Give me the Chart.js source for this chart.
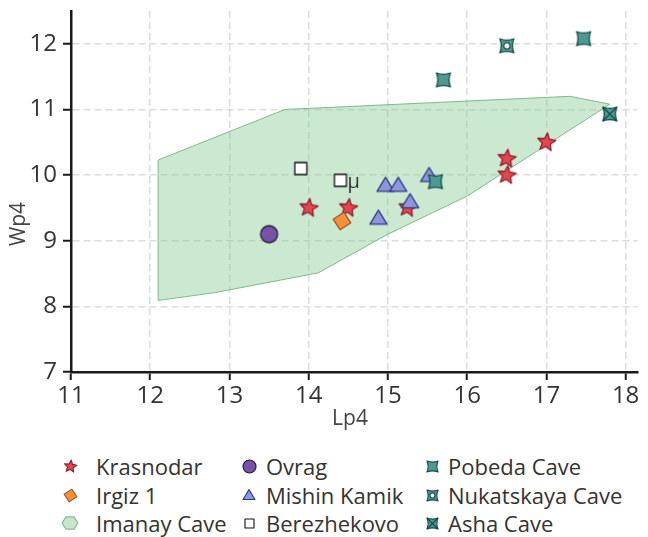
<!DOCTYPE html>
<html>
<head>
<meta charset="utf-8">
<script src="https://cdn.jsdelivr.net/npm/chart.js@4.4.1/dist/chart.umd.min.js"></script>
<style>
  body { margin:0; background:#fff; font-family:'Open Sans', sans-serif; }
  #page { position:relative; width:648px; height:537px; overflow:hidden; }
  #wrap { position:absolute; left:0; top:0; width:648px; height:440px; }
  .lg-mark { position:absolute; }
  .lg-text { position:absolute; font-size:22px; color:#333; line-height:26px; white-space:nowrap; }
</style>
</head>
<body>
<div id="page">
  <div id="wrap"><canvas id="chart"></canvas></div>
  <div id="legend"></div>
</div>
<script>
// --- data ---
const krasnodarLp = [14.0, 14.5, 15.25, 16.5, 16.5, 17.0];
const krasnodarWp = [9.5, 9.5, 9.5, 10.0, 10.25, 10.5];
const irgizLp = [14.42];
const irgizWp = [9.3];
const imanayLp = [12.1, 13.7, 17.3, 17.8, 16.0, 15.0, 14.12, 12.82, 12.1];
const imanayWp = [10.23, 11.0, 11.2, 11.08, 9.68, 9.1, 8.51, 8.21, 8.09];
const ovragLp = [13.5];
const ovragWp = [9.1];
const mishinLp = [14.97, 15.13, 15.52, 15.28, 14.88];
const mishinWp = [9.85, 9.85, 10.0, 9.6, 9.35];
const berezLp = [13.9, 14.4];
const berezWp = [10.1, 9.92];
const berezNotes = ['', 'μ'];
const pobedaLp = [15.7, 17.47, 15.6];
const pobedaWp = [11.45, 12.08, 9.9];
const nukatLp = [16.5];
const nukatWp = [11.97];
const ashaLp = [17.8];
const ashaWp = [10.93];
const xTicks = [11, 12, 13, 14, 15, 16, 17, 18];
const yTicks = [7, 8, 9, 10, 11, 12];

const pts = (xs, ys) => xs.map((x, i) => ({x, y: ys[i]}));

// --- marker drawing ---
function starPath(c, cx, cy, R, r) {
  c.beginPath();
  for (let i = 0; i < 10; i++) {
    const a = -Math.PI/2 + 0.12 + i*Math.PI/5, rad = i%2 ? r : R;
    c.lineTo(cx + rad*Math.cos(a), cy + rad*Math.sin(a));
  }
  c.closePath();
}
function concavePath(c, cx, cy, h, k) {
  c.beginPath();
  c.moveTo(cx-h, cy-h);
  c.quadraticCurveTo(cx, cy-h+k, cx+h, cy-h);
  c.quadraticCurveTo(cx+h-k, cy, cx+h, cy+h);
  c.quadraticCurveTo(cx, cy+h-k, cx-h, cy+h);
  c.quadraticCurveTo(cx-h+k, cy, cx-h, cy-h);
  c.closePath();
}
function marker(kind, s, fill, stroke, lw) {
  const n = Math.ceil(s*2 + 4), cv = document.createElement('canvas');
  cv.width = n; cv.height = n;
  const c = cv.getContext('2d'), m = n/2;
  c.fillStyle = fill; c.strokeStyle = stroke; c.lineWidth = lw; c.lineJoin = 'round';
  if (kind === 'star') starPath(c, m, m, s, s*0.45);
  else if (kind === 'circle') { c.beginPath(); c.arc(m, m, s, 0, Math.PI*2); }
  else if (kind === 'diamond') {
    c.beginPath();
    for (let i = 0; i < 4; i++) { const a = 0.2 + i*Math.PI/2; c.lineTo(m + s*Math.cos(a), m + s*Math.sin(a)); }
    c.closePath();
  }
  else if (kind === 'triangle') { c.beginPath(); c.moveTo(m, m - s*0.9); c.lineTo(m + s, m + s*0.75); c.lineTo(m - s, m + s*0.75); c.closePath(); }
  else if (kind === 'square') { c.beginPath(); c.rect(m - s, m - s, s*2, s*2); }
  else if (kind === 'hex') {
    c.beginPath();
    for (let i = 0; i < 6; i++) { const a = i*Math.PI/3; c.lineTo(m + s*Math.cos(a), m + s*0.88*Math.sin(a)); }
    c.closePath();
  }
  else concavePath(c, m, m, s, s*0.4);
  c.fill(); c.stroke();
  if (kind === 'ring') {
    c.fillStyle = '#fff'; c.lineWidth = lw;
    c.beginPath(); c.arc(m, m, s*0.45, 0, Math.PI*2); c.fill(); c.stroke();
  }
  if (kind === 'cross') {
    c.beginPath(); c.moveTo(m - s, m - s); c.lineTo(m + s, m + s); c.moveTo(m + s, m - s); c.lineTo(m - s, m + s); c.stroke();
  }
  return cv;
}

const series = [
  {label:'Krasnodar', kind:'star', fill:'#e2464f', stroke:'#8e1f2b', size:9.5, lsize:6.5, data:pts(krasnodarLp, krasnodarWp)},
  {label:'Irgiz 1', kind:'diamond', fill:'#f5913e', stroke:'#a8561c', size:9, lsize:6.5, data:pts(irgizLp, irgizWp)},
  {label:'Imanay Cave', kind:'hex', fill:'#c8e6cc', stroke:'#80b98a', size:8, lsize:8, poly:true, data:pts(imanayLp, imanayWp)},
  {label:'Ovrag', kind:'circle', fill:'#7752a8', stroke:'#1c1c2c', size:8.5, lsize:6.5, data:pts(ovragLp, ovragWp)},
  {label:'Mishin Kamik', kind:'triangle', fill:'#8f98d6', stroke:'#2e3a8c', size:8.5, lsize:6, data:pts(mishinLp, mishinWp)},
  {label:'Berezhekovo', kind:'square', fill:'#ffffff', stroke:'#111111', size:6, lsize:4.5, notes:berezNotes, data:pts(berezLp, berezWp)},
  {label:'Pobeda Cave', kind:'concave', fill:'#4c9b90', stroke:'#174a47', size:7, lsize:5.5, data:pts(pobedaLp, pobedaWp)},
  {label:'Nukatskaya Cave', kind:'ring', fill:'#4c9b90', stroke:'#174a47', size:7, lsize:5.5, data:pts(nukatLp, nukatWp)},
  {label:'Asha Cave', kind:'cross', fill:'#4c9b90', stroke:'#174a47', size:7, lsize:5.5, data:pts(ashaLp, ashaWp)}
];

const datasets = series.map((s, i) => {
  if (s.poly) return {
    label: s.label, data: s.data.concat([s.data[0]]), showLine: true, fill: 'shape',
    backgroundColor: 'rgba(130,200,145,0.42)', borderColor: '#7fb98a', borderWidth: 1,
    pointRadius: 0, order: 50
  };
  return {
    label: s.label, data: s.data, notes: s.notes,
    pointStyle: marker(s.kind, s.size, s.fill, s.stroke, 1.3), pointRadius: s.size,
    order: 20 - i
  };
});

const notesPlugin = {
  id: 'notes',
  afterDatasetsDraw(chart) {
    const c = chart.ctx;
    chart.data.datasets.forEach((ds, i) => {
      if (!ds.notes) return;
      chart.getDatasetMeta(i).data.forEach((p, j) => {
        if (!ds.notes[j]) return;
        c.save(); c.font = '20px "Open Sans"'; c.fillStyle = '#333';
        c.textBaseline = 'alphabetic'; c.fillText(ds.notes[j], p.x + 7, p.y + 8); c.restore();
      });
    });
  }
};
const titlesPlugin = {
  id: 'titles',
  afterDraw(chart) {
    const c = chart.ctx;
    c.save(); c.font = '21px "Open Sans"'; c.fillStyle = '#444';
    c.textAlign = 'center'; c.textBaseline = 'middle';
    c.fillText('Lp4', 350, 419);
    c.translate(19, 224); c.rotate(-Math.PI/2); c.fillText('Wp4', 0, 0);
    c.restore();
  }
};

const axisCommon = {
  type: 'linear',
  grid: { color: '#dcdcdc', lineWidth: 1.5, tickColor: '#1a1a1a', tickWidth: 2, tickLength: 8 },
  border: { color: '#1a1a1a', width: 2.5, dash: [7, 4] },
  ticks: { stepSize: 1, includeBounds: false, color: '#333', font: { family: 'Open Sans', size: 24 } }
};

new Chart(document.getElementById('chart'), {
  type: 'scatter',
  data: { datasets },
  options: {
    responsive: true, maintainAspectRatio: false, animation: false,
    layout: { padding: { top: 11, right: 4, left: 0, bottom: 0 } },
    plugins: { legend: { display: false }, tooltip: { enabled: false } },
    scales: {
      x: { ...axisCommon, min: xTicks[0], max: 18.15,
           ticks: { ...axisCommon.ticks, padding: 2 },
           afterFit: s => { s.height = 68; s.paddingLeft = 0; s.paddingRight = 0; } },
      y: { ...axisCommon, min: yTicks[0], max: 12.5,
           ticks: { ...axisCommon.ticks, padding: 6 },
           afterFit: s => { s.width = 71; s.paddingTop = 0; s.paddingBottom = 0; } }
    }
  },
  plugins: [notesPlugin, titlesPlugin]
});

// --- html legend, three columns ---
const legCols = [[70, 96], [249, 266], [432, 448]];
const legRows = [466, 495, 523];
const order = ['Krasnodar', 'Irgiz 1', 'Imanay Cave', 'Ovrag', 'Mishin Kamik', 'Berezhekovo', 'Pobeda Cave', 'Nukatskaya Cave', 'Asha Cave'];
const legend = document.getElementById('legend');
order.forEach((name, k) => {
  const s = series.find(t => t.label === name);
  const [mx, tx] = legCols[Math.floor(k/3)], y = legRows[k % 3];
  const cv = marker(s.kind, s.lsize, s.fill, s.stroke, 1.1);
  cv.className = 'lg-mark';
  cv.style.left = (mx - cv.width/2) + 'px'; cv.style.top = (y - cv.height/2) + 'px';
  legend.appendChild(cv);
  const t = document.createElement('div');
  t.className = 'lg-text'; t.textContent = name;
  t.style.left = tx + 'px'; t.style.top = (y - 13) + 'px';
  legend.appendChild(t);
});
</script>
</body>
</html>
